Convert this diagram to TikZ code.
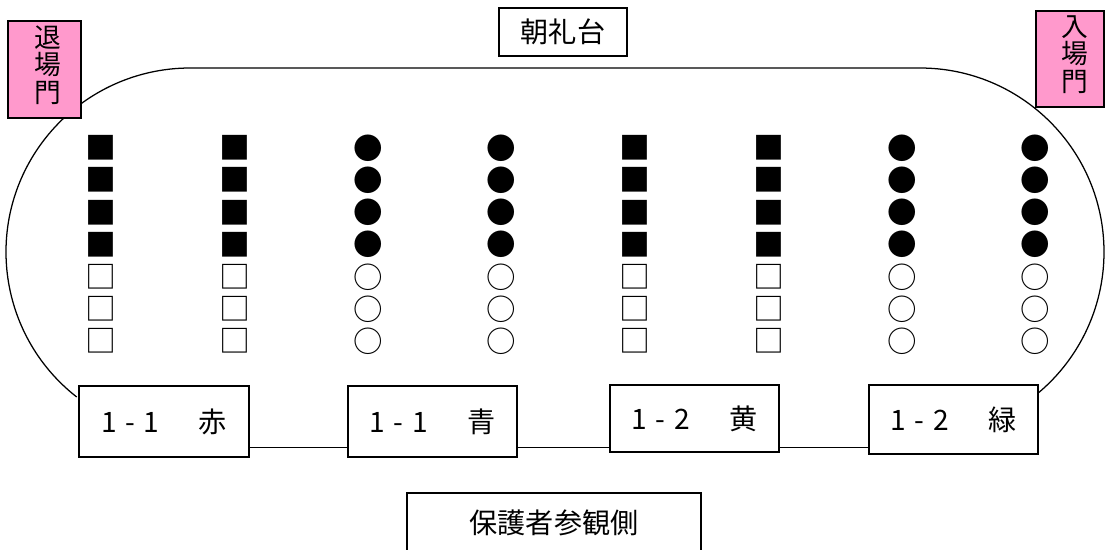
\documentclass[tikz,border=0pt]{standalone}
\usepackage{fontspec}
\setmainfont{Noto Sans CJK JP}
\usepackage{xcolor}
\usepackage{tikz}

\definecolor{gatepink}{HTML}{FF99CC}

\tikzset{
  track/.style={line width=0.9pt},
  plainbox/.style={draw, fill=white, line width=0.9pt, inner sep=0pt,
    font=\fontsize{20}{24}\selectfont},
  gatebox/.style={draw, fill=gatepink, line width=0.9pt, inner sep=0pt},
  gatetext/.style={align=center, inner sep=0pt, font=\fontsize{19}{19.5}\selectfont},
  seat/.style={inner sep=0pt},
  wire/.style={line width=0.9pt}
}

\newcommand{\classname}[3]{#1\kern6pt-\kern6pt#2\kern8pt　#3}

\begin{document}
\begin{tikzpicture}[x=0.025cm, y=-0.025cm]
  \useasboundingbox (0,0) rectangle (1105,549);
  \clip (0,0) rectangle (1105,549);

  % track outline
  \draw[track] (190,252) ++(128:184) arc[start angle=128, end angle=270, radius=184]
    -- (920,68) arc[start angle=-90, end angle=52, radius=184];

  % seats
  \foreach \c/\fl/\op/\sz in {1/■/□/22, 2/■/□/22, 3/●/○/21, 4/●/○/21,
                              5/■/□/22, 6/■/□/22, 7/●/○/21, 8/●/○/21}
    \foreach \r in {1,...,7}
      \node[seat, font=\fontsize{\sz}{24}\selectfont] (s-\c-\r)
        at ({101+133.5*(\c-1)}, {148+32.2*(\r-1)}) {\ifnum\r<5 \fl\else\op\fi};

  \node[plainbox, minimum width=3.2cm, minimum height=1.2cm] (stage) at (563,32) {朝礼台};

  \node[gatebox, minimum width=1.825cm, minimum height=2.425cm] (exitbox) at (44.5,69.5) {};
  \node[gatetext] (exit) at (48,65) {退\\場\\門};
  \node[gatebox, minimum width=1.7cm, minimum height=2.4cm] (entrybox) at (1070,59) {};
  \node[gatetext] (entry) at (1075,54.5) {入\\場\\門};

  \node[plainbox, minimum width=4.25cm, minimum height=1.775cm] (red) at (164,421.5) {\classname{1}{1}{赤}};
  \node[plainbox, minimum width=4.225cm, minimum height=1.775cm] (blue) at (432.5,421.5) {\classname{1}{1}{青}};
  \node[plainbox, minimum width=4.225cm, minimum height=1.675cm] (yellow) at (694.5,418.5) {\classname{1}{2}{黄}};
  \node[plainbox, minimum width=4.225cm, minimum height=1.725cm] (green) at (953.5,419.5) {\classname{1}{2}{緑}};

  \coordinate (wireline) at (0,447.5);
  \draw[wire] (red.east |- wireline) -- (blue.west |- wireline);
  \draw[wire] (blue.east |- wireline) -- (yellow.west |- wireline);
  \draw[wire] (yellow.east |- wireline) -- (green.west |- wireline);

  \node[plainbox, minimum width=7.35cm, minimum height=1.5cm] (guests) at (554,523) {保護者参観側};
\end{tikzpicture}
\end{document}
